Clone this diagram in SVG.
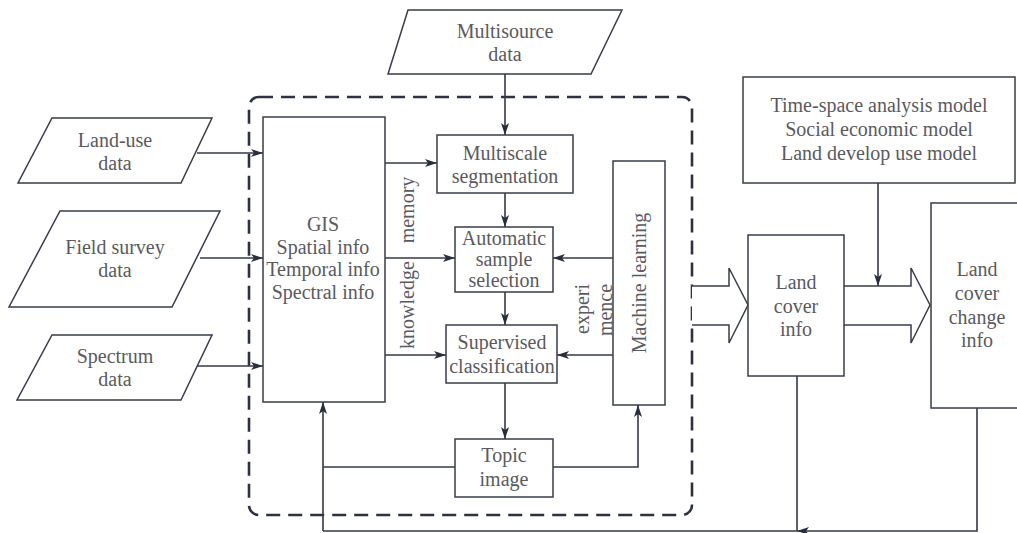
<svg xmlns="http://www.w3.org/2000/svg" width="1017" height="533" viewBox="0 0 1017 533">
  <style>
    .box { fill: #fff; stroke: #3a3d48; stroke-width: 1.5; }
    .ln { fill: none; stroke: #343846; stroke-width: 1.6; }
    .arr { fill: none; stroke: #343846; stroke-width: 1.6; marker-end: url(#head); }
    .big { fill: #fff; stroke: #3a3d48; stroke-width: 1.5; stroke-linejoin: miter; }
    .dash { fill: none; stroke: #2e3140; stroke-width: 2.6; stroke-dasharray: 14 8; }
    text { font-family: "Liberation Serif", "Times New Roman", serif; font-size: 20px; fill: #5a5a5e; text-anchor: middle; dominant-baseline: central; }
  </style>
  <defs>
    <marker id="head" markerWidth="13" markerHeight="8" refX="12" refY="4" orient="auto" markerUnits="userSpaceOnUse">
      <path d="M0,0 L12,4 L0,8 L3,4 z" fill="#2a2d3a"/>
    </marker>
  </defs>
  <rect width="1017" height="533" fill="#fff"/>

  <!-- processing boundary -->
  <rect class="dash" x="249" y="97" width="443" height="418" rx="10" ry="10"/>

  <g id="connectors">
    <!-- inputs into GIS -->
    <line class="arr" x1="197" y1="153" x2="263" y2="153"/>
    <line class="arr" x1="200" y1="258" x2="263" y2="258"/>
    <line class="arr" x1="197" y1="366" x2="263" y2="366"/>
    <!-- multisource to segmentation -->
    <line class="arr" x1="505" y1="74" x2="505" y2="135"/>
    <!-- GIS outputs -->
    <line class="arr" x1="385" y1="163" x2="437" y2="163"/>
    <line class="arr" x1="385" y1="258" x2="455" y2="258"/>
    <line class="arr" x1="385" y1="355" x2="446" y2="355"/>
    <!-- main chain -->
    <line class="arr" x1="505" y1="193" x2="505" y2="227"/>
    <line class="arr" x1="505" y1="292" x2="505" y2="325"/>
    <line class="arr" x1="505" y1="383" x2="505" y2="439"/>
    <!-- machine learning feedback -->
    <line class="arr" x1="613" y1="258" x2="553" y2="258"/>
    <line class="arr" x1="613" y1="355" x2="557" y2="355"/>
    <polyline class="arr" points="553,467 638,467 638,405"/>
    <!-- topic image back to GIS -->
    <line class="ln" x1="455" y1="467" x2="323" y2="467"/>
    <polyline class="arr" points="323,531 323,402"/>
    <!-- return path along the bottom -->
    <line class="ln" x1="797" y1="376" x2="797" y2="531"/>
    <line class="ln" x1="797" y1="531" x2="323" y2="531"/>
    <polyline class="arr" points="977,408 977,531 797,531"/>
    <!-- models into change analysis -->
    <line class="arr" x1="878" y1="183" x2="878" y2="286"/>
    <!-- hollow flow arrows -->
    <polyline class="big" points="692,286 729,286 729,268 748,305 729,343 729,325 692,325"/>
    <polyline class="big" points="844,286 911,286 911,268 930,305 911,343 911,325 844,325"/>
  </g>

  <g id="multisource">
    <polygon class="box" points="408,10 622,10 591,74 388,74"/>
    <text x="505" y="31">Multisource</text>
    <text x="505" y="54">data</text>
  </g>
  <g id="landuse">
    <polygon class="box" points="52,118 212,118 181,183 18,183"/>
    <text x="115" y="140">Land-use</text>
    <text x="115" y="163">data</text>
  </g>
  <g id="fieldsurvey">
    <polygon class="box" points="60,211 220,211 172,307 9,307"/>
    <text x="115" y="247">Field survey</text>
    <text x="115" y="270">data</text>
  </g>
  <g id="spectrum">
    <polygon class="box" points="52,335 212,335 181,400 17,400"/>
    <text x="115" y="356">Spectrum</text>
    <text x="115" y="379">data</text>
  </g>
  <g id="gis">
    <rect class="box" x="263" y="117" width="122" height="285"/>
    <text x="323" y="224">GIS</text>
    <text x="323" y="247">Spatial info</text>
    <text x="323" y="269">Temporal info</text>
    <text x="323" y="292">Spectral info</text>
  </g>
  <g id="labels">
    <text transform="translate(407,210) rotate(-90)">memory</text>
    <text transform="translate(407,305) rotate(-90)">knowledge</text>
    <text transform="translate(582,309) rotate(-90)">experi</text>
    <text transform="translate(605,310) rotate(-90)">mence</text>
  </g>
  <g id="segmentation">
    <rect class="box" x="437" y="135" width="136" height="58"/>
    <text x="505" y="153">Multiscale</text>
    <text x="505" y="176">segmentation</text>
  </g>
  <g id="sample">
    <rect class="box" x="455" y="227" width="98" height="65"/>
    <text x="504" y="238">Automatic</text>
    <text x="504" y="259">sample</text>
    <text x="504" y="280">selection</text>
  </g>
  <g id="classification">
    <rect class="box" x="446" y="325" width="111" height="58"/>
    <text x="502" y="342">Supervised</text>
    <text x="502" y="366">classification</text>
  </g>
  <g id="topic">
    <rect class="box" x="455" y="439" width="98" height="58"/>
    <text x="504" y="455">Topic</text>
    <text x="504" y="479">image</text>
  </g>
  <g id="machinelearning">
    <rect class="box" x="613" y="161" width="52" height="244"/>
    <text transform="translate(639,283) rotate(-90)">Machine learning</text>
  </g>
  <g id="models">
    <rect class="box" x="743" y="77" width="272" height="106"/>
    <text x="879" y="105">Time-space analysis model</text>
    <text x="879" y="129">Social economic model</text>
    <text x="879" y="153">Land develop use model</text>
  </g>
  <g id="landcover">
    <rect class="box" x="748" y="235" width="96" height="141"/>
    <text x="796" y="282">Land</text>
    <text x="796" y="306">cover</text>
    <text x="796" y="329">info</text>
  </g>
  <g id="landcoverchange">
    <rect class="box" x="931" y="203" width="100" height="205"/>
    <text x="977" y="269">Land</text>
    <text x="977" y="293">cover</text>
    <text x="977" y="317">change</text>
    <text x="977" y="340">info</text>
  </g>
</svg>
